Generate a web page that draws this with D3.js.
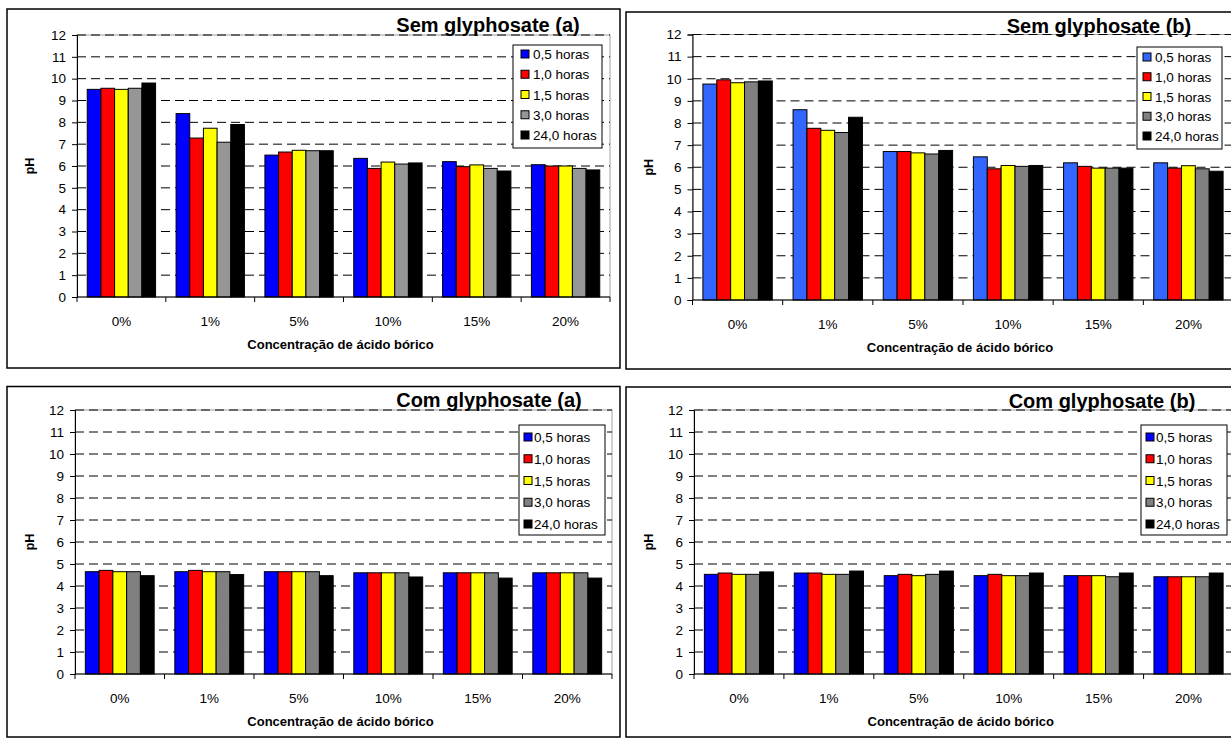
<!DOCTYPE html>
<html>
<head>
<meta charset="utf-8">
<script src="https://cdn.jsdelivr.net/npm/d3@7"></script>
<style>
  html, body { margin: 0; padding: 0; background: #fff; }
  svg { display: block; font-family: "Liberation Sans", Arial, sans-serif; }
</style>
</head>
<body>
<svg id="chart" width="1231" height="738"></svg>
<script>
// ---- data ----
const categories = ["0%", "1%", "5%", "10%", "15%", "20%"];
const seriesNames = ["0,5 horas", "1,0 horas", "1,5 horas", "3,0 horas", "24,0 horas"];
const yTicks = [0, 1, 2, 3, 4, 5, 6, 7, 8, 9, 10, 11, 12];
const xAxisTitle = "Concentração de ácido bórico";
const yAxisTitle = "pH";
const panelTitles = ["Sem glyphosate (a)", "Sem glyphosate (b)", "Com glyphosate (a)", "Com glyphosate (b)"];

// values per series (rows) across categories (columns)
const semGlyphosateA = [
  [9.51, 8.40, 6.50, 6.35, 6.20, 6.06],
  [9.56, 7.28, 6.64, 5.89, 5.97, 6.00],
  [9.51, 7.73, 6.72, 6.18, 6.05, 6.00],
  [9.56, 7.09, 6.70, 6.09, 5.89, 5.89],
  [9.80, 7.90, 6.70, 6.14, 5.77, 5.82]
];
const semGlyphosateB = [
  [9.76, 8.60, 6.71, 6.47, 6.20, 6.20],
  [9.95, 7.76, 6.71, 5.93, 6.04, 5.96],
  [9.82, 7.67, 6.65, 6.08, 5.96, 6.07],
  [9.86, 7.57, 6.60, 6.04, 5.96, 5.93],
  [9.90, 8.26, 6.76, 6.08, 5.96, 5.82]
];
const comGlyphosateA = [
  [4.65, 4.65, 4.65, 4.60, 4.60, 4.60],
  [4.71, 4.71, 4.65, 4.60, 4.60, 4.60],
  [4.65, 4.65, 4.65, 4.60, 4.60, 4.60],
  [4.65, 4.65, 4.65, 4.60, 4.60, 4.60],
  [4.47, 4.52, 4.47, 4.41, 4.36, 4.36]
];
const comGlyphosateB = [
  [4.53, 4.59, 4.47, 4.47, 4.47, 4.42],
  [4.59, 4.59, 4.53, 4.53, 4.47, 4.42],
  [4.53, 4.53, 4.47, 4.47, 4.47, 4.42],
  [4.53, 4.53, 4.53, 4.47, 4.42, 4.42],
  [4.64, 4.68, 4.68, 4.59, 4.59, 4.59]
];

const colorsSemA = ["#0000FF", "#FF0000", "#FFFF00", "#969696", "#000000"];
const colorsSemB = ["#3366FF", "#FF0000", "#FFFF00", "#808080", "#000000"];
const colorsCom = ["#0000FF", "#FF0000", "#FFFF00", "#808080", "#000000"];

// ---- layout (positions kept separate from data) ----
const panels = [
  { title: panelTitles[0], values: semGlyphosateA, colors: colorsSemA,
    box: [7, 9, 620, 368], plot: [77, 35, 610, 297], titleX: 488, titleY: 32,
    legend: [513, 45, 602, 148], sw: 8, tx: 20, lyTop: 54, lyBot: 135 },
  { title: panelTitles[1], values: semGlyphosateB, colors: colorsSemB,
    box: [626, 12, 1233, 369], plot: [692.5, 34.5, 1233.5, 300], titleX: 1099, titleY: 33,
    legend: [1137, 47, 1222, 149], sw: 6, tx: 18, lyTop: 57, lyBot: 136 },
  { title: panelTitles[2], values: comGlyphosateA, colors: colorsCom,
    box: [7, 386.5, 620, 737], plot: [75, 410, 612, 674], titleX: 489, titleY: 407,
    legend: [519, 425, 605, 535], sw: 5, tx: 15, lyTop: 437, lyBot: 524 },
  { title: panelTitles[3], values: comGlyphosateB, colors: colorsCom,
    box: [626, 387, 1233, 737], plot: [694, 410, 1233.5, 674], titleX: 1102, titleY: 408,
    legend: [1141, 425, 1227, 535], sw: 5, tx: 15, lyTop: 437, lyBot: 524 }
];

const svg = d3.select("#chart");

panels.forEach(p => {
  const g = svg.append("g");
  const [bx0, by0, bx1, by1] = p.box;
  const [px0, py0, px1, py1] = p.plot;

  // outer frame
  g.append("rect")
    .attr("x", bx0).attr("y", by0)
    .attr("width", bx1 - bx0).attr("height", by1 - by0)
    .attr("fill", "#fff").attr("stroke", "#000").attr("stroke-width", 1.5);

  const x = d3.scaleBand().domain(categories).range([px0, px1]).padding(0);
  const xs = d3.scaleBand().domain(seriesNames).range([0, x.bandwidth()])
    .paddingInner(0).paddingOuter(0.75);
  const y = d3.scaleLinear().domain([0, 12]).range([py1, py0]);

  // plot area border
  g.append("rect")
    .attr("x", px0).attr("y", py0)
    .attr("width", px1 - px0).attr("height", py1 - py0)
    .attr("fill", "none").attr("stroke", "#a0a0a0").attr("stroke-width", 1);

  // dashed gridlines
  g.append("g").selectAll("line")
    .data(yTicks.filter(t => t > 0))
    .join("line")
    .attr("x1", px0).attr("x2", px1)
    .attr("y1", d => y(d)).attr("y2", d => y(d))
    .attr("stroke", "#000").attr("stroke-width", 1)
    .attr("stroke-dasharray", "9,5");

  // bars
  const barG = g.append("g");
  p.values.forEach((row, si) => {
    barG.append("g").selectAll("rect")
      .data(row)
      .join("rect")
      .attr("x", (d, ci) => x(categories[ci]) + xs(seriesNames[si]))
      .attr("y", d => y(d))
      .attr("width", xs.bandwidth())
      .attr("height", d => y(0) - y(d))
      .attr("fill", p.colors[si])
      .attr("stroke", "#000").attr("stroke-width", 1);
  });

  // y axis
  const yAxis = d3.axisLeft(y).tickValues(yTicks).tickSize(5).tickPadding(6).tickFormat(d3.format("d"));
  const ya = g.append("g").attr("transform", `translate(${px0},0)`).call(yAxis);
  ya.select(".domain").attr("stroke", "#000");
  ya.selectAll(".tick line").attr("stroke", "#000");
  ya.selectAll(".tick text").attr("font-size", 13.5).attr("fill", "#000")
    .attr("font-family", "'Liberation Sans', Arial, sans-serif");

  // x axis: ticks at category boundaries
  const xa = g.append("g").attr("transform", `translate(0,${py1})`);
  xa.append("line").attr("x1", px0).attr("x2", px1).attr("y1", 0).attr("y2", 0)
    .attr("stroke", "#000").attr("stroke-width", 1);
  const bounds = categories.map(c => x(c)).concat([x(categories[categories.length - 1]) + x.bandwidth()]);
  xa.selectAll("line.tk").data(bounds).join("line").attr("class", "tk")
    .attr("x1", d => d).attr("x2", d => d).attr("y1", 0).attr("y2", 5)
    .attr("stroke", "#000");
  xa.selectAll("text").data(categories).join("text")
    .attr("x", d => x(d) + x.bandwidth() / 2)
    .attr("y", 29)
    .attr("text-anchor", "middle")
    .attr("font-size", 13.5)
    .text(d => d);

  // axis titles
  g.append("text")
    .attr("x", (px0 + px1) / 2 - 3).attr("y", py1 + 52)
    .attr("text-anchor", "middle").attr("font-size", 13).attr("font-weight", "bold")
    .text(xAxisTitle);
  g.append("text")
    .attr("transform", `translate(${(p.box[0] + 27)},${(py0 + py1) / 2}) rotate(-90)`)
    .attr("text-anchor", "middle").attr("font-size", 12.5).attr("font-weight", "bold")
    .text(yAxisTitle);

  // title
  g.append("text")
    .attr("x", p.titleX).attr("y", p.titleY)
    .attr("text-anchor", "middle").attr("font-size", 20).attr("font-weight", "bold")
    .text(p.title);

  // legend
  const [lx0, ly0, lx1, ly1] = p.legend;
  const lg = g.append("g");
  lg.append("rect").attr("x", lx0).attr("y", ly0)
    .attr("width", lx1 - lx0).attr("height", ly1 - ly0)
    .attr("fill", "#fff").attr("stroke", "#000").attr("stroke-width", 1);
  const ly = d3.scalePoint().domain(seriesNames).range([p.lyTop, p.lyBot]);
  const items = lg.selectAll("g.item").data(seriesNames).join("g").attr("class", "item")
    .attr("transform", d => `translate(${lx0},${ly(d)})`);
  items.append("rect").attr("x", p.sw).attr("y", -4).attr("width", 8).attr("height", 8)
    .attr("fill", (d, i) => p.colors[i]).attr("stroke", "#000").attr("stroke-width", 1);
  items.append("text").attr("x", p.tx).attr("y", 5).attr("font-size", 13.5).text(d => d);
});
</script>
</body>
</html>
